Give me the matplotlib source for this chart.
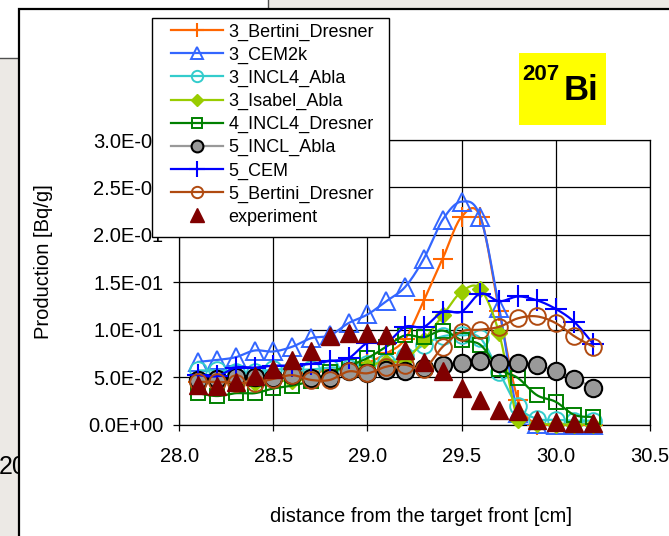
import matplotlib
matplotlib.use('Agg')
import matplotlib.pyplot as plt
from matplotlib.lines import Line2D
from matplotlib.patches import Rectangle
import numpy as np

plt.rcParams['font.family'] = ['Liberation Sans', 'DejaVu Sans']

# distance from the target front [cm]
distance = [28.1, 28.2, 28.3, 28.4, 28.5, 28.6, 28.7, 28.8, 28.9, 29.0, 29.1,
            29.2, 29.3, 29.4, 29.5, 29.6, 29.7, 29.8, 29.9, 30.0, 30.1, 30.2]

# production [Bq/g]
bertini_dresner_3 = [0.045, 0.045, 0.047, 0.050, 0.050, 0.052, 0.055, 0.057, 0.060, 0.065, 0.075,
                     0.090, 0.131, 0.175, 0.219, 0.219, 0.120, 0.026, 0.000, 0.000, 0.000, 0.000]
cem2k_3 = [0.066, 0.068, 0.071, 0.078, 0.077, 0.082, 0.091, 0.094, 0.107, 0.116, 0.130,
           0.145, 0.175, 0.216, 0.235, 0.219, 0.123, 0.012, 0.001, 0.000, 0.000, 0.000]
incl4_abla_3 = [0.057, 0.057, 0.055, 0.055, 0.058, 0.058, 0.058, 0.060, 0.060, 0.064, 0.066,
                0.072, 0.084, 0.093, 0.094, 0.091, 0.055, 0.019, 0.006, 0.005, 0.004, 0.004]
isabel_abla_3 = [0.045, 0.044, 0.044, 0.044, 0.046, 0.046, 0.048, 0.050, 0.055, 0.062, 0.066,
                 0.068, 0.089, 0.115, 0.140, 0.143, 0.096, 0.005, 0.001, 0.000, 0.000, 0.000]
incl4_dresner_4 = [0.033, 0.030, 0.033, 0.033, 0.038, 0.041, 0.046, 0.055, 0.062, 0.070, 0.082,
                   0.094, 0.092, 0.099, 0.089, 0.084, 0.059, 0.049, 0.031, 0.024, 0.010, 0.008]
incl_abla_5 = [0.047, 0.048, 0.050, 0.050, 0.049, 0.052, 0.049, 0.049, 0.056, 0.054, 0.057,
               0.056, 0.060, 0.063, 0.065, 0.067, 0.065, 0.065, 0.063, 0.056, 0.048, 0.039]
cem_5 = [0.052, 0.051, 0.060, 0.060, 0.062, 0.062, 0.064, 0.067, 0.070, 0.086, 0.086,
         0.103, 0.103, 0.119, 0.119, 0.138, 0.130, 0.135, 0.131, 0.122, 0.108, 0.085]
bertini_dresner_5 = [0.045, 0.045, 0.044, 0.044, 0.048, 0.052, 0.047, 0.047, 0.056, 0.054, 0.061,
                     0.063, 0.059, 0.082, 0.098, 0.100, 0.103, 0.112, 0.114, 0.107, 0.093, 0.082]
experiment = [0.042, 0.041, 0.045, 0.051, 0.058, 0.068, 0.077, 0.093, 0.096, 0.096, 0.094,
              0.079, 0.066, 0.056, 0.038, 0.026, 0.015, 0.014, 0.005, 0.003, 0.002, 0.002]

W, H = 669, 536


def fx(px):
    return px / W


def fy(py):
    return 1 - py / H


def smooth(x, y, n=16):
    # Excel style smoothed line: Bezier segments with Catmull-Rom control points
    p = np.column_stack([x, y]).astype(float)
    p = np.vstack([p[:1], p, p[-1:]])
    t = np.linspace(0, 1, n, endpoint=False)[:, None]
    out = []
    for i in range(1, len(p) - 2):
        p0, p1, p2, p3 = p[i - 1], p[i], p[i + 1], p[i + 2]
        c1 = p1 + (p2 - p0) / 6
        c2 = p2 - (p3 - p1) / 6
        seg = ((1 - t) ** 3 * p1 + 3 * (1 - t) ** 2 * t * c1
               + 3 * (1 - t) * t ** 2 * c2 + t ** 3 * p2)
        out.append(seg)
    out.append(p[-2:-1])
    out = np.vstack(out)
    return out[:, 0], out[:, 1]


fig = plt.figure(figsize=(W / 100, H / 100), dpi=100)
fig.patch.set_facecolor('#ECE9E5')

# slide decorations behind the chart
fig.patches.append(Rectangle((fx(-5), fy(58)), fx(273), 1, transform=fig.transFigure,
                             facecolor='white', edgecolor='#505050', lw=1, zorder=-3))
fig.text(fx(-1), fy(467), '20', fontsize=18, va='center', ha='left', zorder=-2)
fig.patches.append(Rectangle((fx(19), fy(H + 10)), 1, fy(8.5) - fy(H + 10),
                             transform=fig.transFigure, facecolor='white',
                             edgecolor='black', lw=1.6, zorder=-1))

ax = fig.add_axes([fx(179.3), fy(424.5), fx(649.7) - fx(179.3), fy(140) - fy(424.5)])
ax.set_zorder(0)

series = [
    ('3_Bertini_Dresner', bertini_dresner_3,
     dict(color='#FF6600', marker='+', ms=15, mew=1.5)),
    ('3_CEM2k', cem2k_3,
     dict(color='#3366FF', marker='^', ms=13, mfc='none', mew=1.4)),
    ('3_INCL4_Abla', incl4_abla_3,
     dict(color='#33CCCC', marker='o', ms=12, mfc='none', mew=1.4)),
    ('3_Isabel_Abla', isabel_abla_3,
     dict(color='#99CC00', marker='D', ms=8.5, mew=1)),
    ('4_INCL4_Dresner', incl4_dresner_4,
     dict(color='#008000', marker='s', ms=10.5, mfc='none', mew=1.4)),
    ('5_INCL_Abla', incl_abla_5,
     dict(color='#999999', marker='o', ms=12.5, mfc='#999999', mec='black', mew=1.5)),
    ('5_CEM', cem_5,
     dict(color='#0000FF', marker='+', ms=16, mew=1.5)),
    ('5_Bertini_Dresner', bertini_dresner_5,
     dict(color='#B04A10', marker='o', ms=12, mfc='none', mew=1.4)),
]

handles = []
z = 3
for name, vals, st in series:
    sx, sy = smooth(distance, vals)
    ax.plot(sx, sy, color=st['color'], lw=1.6, zorder=z)
    ax.plot(distance, vals, ls='none', clip_on=False, zorder=z + 0.5, **st)
    z += 1
    hst = dict(st)
    hst['ms'] = st['ms'] * 0.68
    handles.append(Line2D([], [], lw=1.6, label=name, **hst))

ax.plot(distance, experiment, ls='none', marker='^', ms=13, color='#800000',
        clip_on=False, zorder=z)
handles.append(Line2D([], [], ls='none', marker='^', ms=10, color='#800000',
                      label='experiment'))

ax.set_xlim(28.0, 30.5)
ax.set_ylim(0, 0.3)
xt = np.arange(28.0, 30.51, 0.5)
ax.set_xticks(xt)
ax.set_xticklabels(['%.1f' % v for v in xt])
yt = np.arange(0, 0.301, 0.05)
ax.set_yticks(yt)
ax.set_yticklabels(['%.1E' % v for v in yt])
ax.grid(True, color='black', lw=0.9)
ax.set_axisbelow(True)
for s in ax.spines.values():
    s.set_color('black')
    s.set_linewidth(0.9)
ax.tick_params(direction='out', length=4.5, width=0.9, labelsize=14.5, colors='black')
ax.tick_params(axis='y', pad=7)
ax.tick_params(axis='x', pad=12)

fig.text(fx(421.5), fy(516.5), 'distance from the target front [cm]', fontsize=14.5,
         ha='center', va='center')
fig.text(fx(44), fy(261.5), 'Production [Bq/g]', fontsize=14.5, rotation=90,
         ha='center', va='center')

# legend frame drawn by hand to match its padding
fig.patches.append(Rectangle((fx(151.5), fy(237)), fx(389) - fx(151.5), fy(18.3) - fy(237),
                             transform=fig.transFigure, facecolor='white',
                             edgecolor='black', lw=1, zorder=4))
leg = fig.legend(handles=handles, loc='upper left',
                 bbox_to_anchor=(fx(170.7), fy(23.5)), bbox_transform=fig.transFigure,
                 frameon=False, borderpad=0, borderaxespad=0, fontsize=13,
                 handlelength=2.9, handletextpad=0.3, labelspacing=0.33)
leg.set_zorder(5)

# nuclide tag
fig.patches.append(Rectangle((fx(519), fy(125)), fx(606) - fx(519), fy(53) - fy(125),
                             transform=fig.transFigure, facecolor='#FFFF00',
                             edgecolor='none', zorder=3))
fig.text(fx(522), fy(74), '207', fontsize=16, fontweight='bold', ha='left',
         va='center', zorder=3.5)
fig.text(fx(564), fy(90), 'Bi', fontsize=25, fontweight='bold', ha='left',
         va='center', zorder=3.5)

fig.savefig('out.png', dpi=100, facecolor=fig.get_facecolor())
